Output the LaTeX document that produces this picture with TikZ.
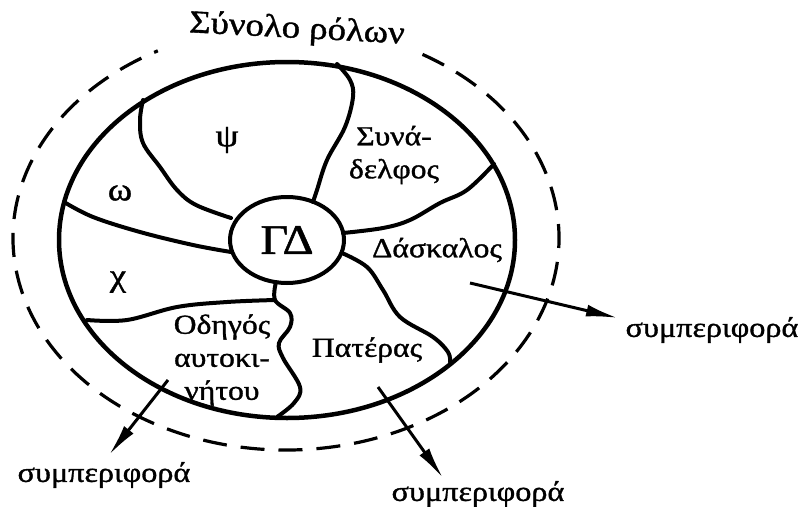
\documentclass[tikz,border=0pt]{standalone}
\usepackage{fontspec}
\setmainfont{Liberation Serif}[FakeStretch=1.15,FakeBold=1.2]
\usetikzlibrary{arrows.meta,shapes.geometric}
\begin{document}
\begin{tikzpicture}[x=1pt,y=-1pt,
  bound/.style={line width=4pt, line cap=round, line join=round},
  rim/.style={line width=4.5pt},
  dashrim/.style={line width=3.2pt, dash pattern=on 24pt off 14pt},
  outarrow/.style={line width=3pt, -{Latex[length=32pt,width=12pt]}},
  lbl/.style={font=\fontsize{27.5}{33}\selectfont, align=center, inner sep=0pt},
  big/.style={font=\fontsize{32}{34}\selectfont, inner sep=0pt},
  beh/.style={font=\fontsize{28}{30}\selectfont, inner sep=0pt}
]
\useasboundingbox[fill=white] (0,0) rectangle (800,506);

% outer dashed ellipse (gap at the top for the title)
\coordinate (oc) at (286,238);
\draw[dashrim] (oc) ++(300:273 and 212) arc[start angle=300, end angle=602, x radius=273, y radius=212];

% inner ellipse
\coordinate (ic) at (287,240);
\draw[rim] (ic) ellipse [x radius=228, y radius=178];

% central ellipse
\node[draw, line width=4pt, ellipse, minimum width=114pt, minimum height=86pt, inner sep=0pt,
      font=\fontsize{42}{44}\selectfont] (gd) at (287,240) {ΓΔ};

% boundary points
\coordinate (p1) at (143,100);
\coordinate (p2) at (337,64);
\coordinate (p3) at (494,164);
\coordinate (p4) at (450,362);
\coordinate (p5) at (277,417);
\coordinate (p6) at (87,320);
\coordinate (p7) at (64,202);
\coordinate (j) at (275,300);

% region boundaries
\draw[bound] plot[smooth, tension=0.6] coordinates {(p1) (140,120) (143,143) (160,167) (177,190) (196,205) (231,218)};
\draw[bound] plot[smooth, tension=0.6] coordinates {(p2) (350,80) (353,97) (345,127) (327,160) (317,190) (313,202)};
\draw[bound] plot[smooth, tension=0.6] coordinates {(343,233) (383,228) (410,220) (440,203) (467,190) (p3)};
\draw[bound] plot[smooth, tension=0.6] coordinates {(342,253) (367,267) (383,290) (400,317) (433,337) (448,352) (p4)};
\draw[bound] plot[smooth, tension=0.6] coordinates {(276,282) (j) (290,313) (290,327) (279,343) (283,358) (300,387) (294,403) (p5)};
\draw[bound] plot[smooth, tension=0.6] coordinates {(p6) (127,320) (177,307) (227,302) (j)};
\draw[bound] plot[smooth, tension=0.6] coordinates {(p7) (93,217) (140,232) (193,245) (231,252)};

% labels
\node[big, rotate=-3] (title) at (297,30) {Σύνολο ρόλων};
\node[big] (psi) at (227,140) {ψ};
\node[big] (omega) at (120,193) {ω};
\node[big] (chi) at (118,282) {χ};
\node[lbl] (syn) at (394,155) {Συνά-\\δελφος};
\node[lbl] (dask) at (437,250) {Δάσκαλος};
\node[lbl] (pat) at (367,350) {Πατέρας};
\node[lbl] (odi) at (222,360) {Οδηγός\\αυτοκι-\\νήτου};

% behaviour arrows
\coordinate (a1) at (470,283);
\coordinate (a2) at (378,387);
\coordinate (a3) at (168,380);
\node[beh] (b1) at (712,330) {συμπεριφορά};
\node[beh] (b2) at (478,494) {συμπεριφορά};
\node[beh] (b3) at (104,475) {συμπεριφορά};
\draw[outarrow] (a1) -- (618,318);
\draw[outarrow] (a2) -- (443,478);
\draw[outarrow] (a3) -- (109,455);
\end{tikzpicture}
\end{document}
